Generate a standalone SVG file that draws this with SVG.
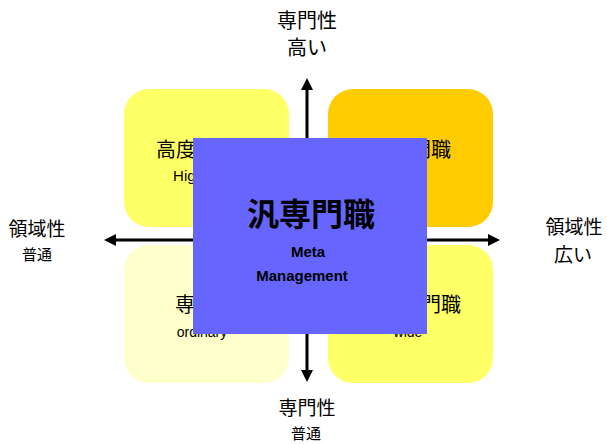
<svg xmlns="http://www.w3.org/2000/svg" width="607" height="444" viewBox="0 0 607 444">
<style>
.jp{font-family:"Noto Sans CJK JP","Liberation Sans",sans-serif;fill:#000}
.en{font-family:"Liberation Sans",Arial,sans-serif;fill:#000}
.ax{stroke:#000;stroke-width:3;fill:none}
.big{font-size:20px}
.mid{font-size:19px}
.sm{font-size:15px}
</style>
<defs>
<marker id="arr" markerUnits="userSpaceOnUse" markerWidth="12" markerHeight="12" refX="2" refY="6" orient="auto">
<path d="M0,0 L12,6 L0,12 z" fill="#000"/>
</marker>
</defs>
<g id="connectors">
<line class="ax" x1="307" y1="240" x2="307" y2="88" marker-end="url(#arr)"/>
<line class="ax" x1="307" y1="240" x2="307" y2="372" marker-end="url(#arr)"/>
<line class="ax" x1="307" y1="240" x2="114" y2="240" marker-end="url(#arr)"/>
<line class="ax" x1="307" y1="240" x2="490" y2="240" marker-end="url(#arr)"/>
</g>
<g id="label-top" text-anchor="middle">
<text class="jp big" x="307" y="28">専門性</text>
<text class="jp big" x="307" y="55">高い</text>
</g>
<g id="label-bottom" text-anchor="middle">
<text class="jp mid" x="307" y="415">専門性</text>
<text class="jp sm" x="306" y="439">普通</text>
</g>
<g id="label-left" text-anchor="middle">
<text class="jp mid" x="37" y="236">領域性</text>
<text class="jp sm" x="37" y="260">普通</text>
</g>
<g id="label-right" text-anchor="middle">
<text class="jp mid" x="574" y="234">領域性</text>
<text class="jp mid" x="573" y="262">広い</text>
</g>
<g id="node-high" text-anchor="middle">
<rect x="124" y="89" width="165" height="138" rx="25" fill="#FFFF66"/>
<text class="jp big" x="206" y="157">高度専門職</text>
<text class="en" font-size="15" x="206" y="181">High level</text>
</g>
<g id="node-super" text-anchor="middle">
<rect x="328" y="89" width="165" height="138" rx="25" fill="#FFCC00"/>
<text class="jp big" x="411" y="157">超専門職</text>
</g>
<g id="node-ordinary" text-anchor="middle">
<rect x="124" y="245" width="165" height="138" rx="25" fill="#FFFFCC"/>
<text class="jp big" x="205" y="312">専門職</text>
<text class="en" font-size="14" x="202" y="337">ordinary</text>
</g>
<g id="node-wide" text-anchor="middle">
<rect x="328" y="245" width="165" height="138" rx="25" fill="#FFFF66"/>
<text class="jp big" x="411" y="312">広域専門職</text>
<text class="en" font-size="14" x="408" y="337">wide</text>
</g>
<g id="node-meta" text-anchor="middle">
<rect x="193" y="138" width="234" height="196" fill="#6666FF"/>
<text class="jp" font-size="32" font-weight="bold" x="311" y="226">汎専門職</text>
<text class="en" font-size="15" font-weight="bold" x="308" y="257">Meta</text>
<text class="en" font-size="15" font-weight="bold" x="302" y="281">Management</text>
</g>
</svg>
